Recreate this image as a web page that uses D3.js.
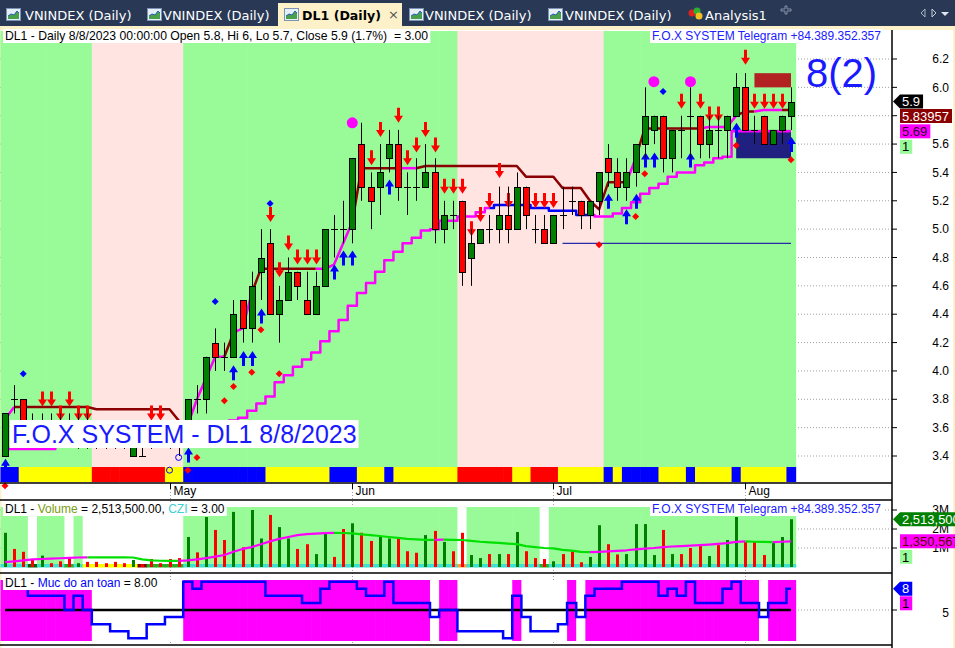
<!DOCTYPE html>
<html>
<head>
<meta charset="utf-8">
<title>DL1 (Daily)</title>
<script src="https://cdn.jsdelivr.net/npm/d3@7/dist/d3.min.js"></script>
<style>
  body { margin: 0; background: #fff; }
  svg { display: block; font-family: "Liberation Sans", Arial, sans-serif; }
  text { white-space: pre; }
</style>
</head>
<body>
<div id="chart"></div>
<script>
// 1: DATA (DL1 daily Apr - Aug 2023)
const dates = [
  "2023-04-05","2023-04-06","2023-04-07","2023-04-10","2023-04-11","2023-04-12","2023-04-13","2023-04-14","2023-04-17","2023-04-18",
  "2023-04-19","2023-04-20","2023-04-21","2023-04-24","2023-04-25","2023-04-26","2023-04-27","2023-04-28","2023-05-04","2023-05-05",
  "2023-05-08","2023-05-09","2023-05-10","2023-05-11","2023-05-12","2023-05-15","2023-05-16","2023-05-17","2023-05-18","2023-05-19",
  "2023-05-22","2023-05-23","2023-05-24","2023-05-25","2023-05-26","2023-05-29","2023-05-30","2023-05-31","2023-06-01","2023-06-02",
  "2023-06-05","2023-06-06","2023-06-07","2023-06-08","2023-06-09","2023-06-12","2023-06-13","2023-06-14","2023-06-15","2023-06-16",
  "2023-06-19","2023-06-20","2023-06-21","2023-06-22","2023-06-23","2023-06-26","2023-06-27","2023-06-28","2023-06-29","2023-06-30",
  "2023-07-03","2023-07-04","2023-07-05","2023-07-06","2023-07-07","2023-07-10","2023-07-11","2023-07-12","2023-07-13","2023-07-14",
  "2023-07-17","2023-07-18","2023-07-19","2023-07-20","2023-07-21","2023-07-24","2023-07-25","2023-07-26","2023-07-27","2023-07-28",
  "2023-07-31","2023-08-01","2023-08-02","2023-08-03","2023-08-04","2023-08-07","2023-08-08"
];

const open = [
  3.4,3.8,3.8,3.6,3.5,3.6,3.6,3.6,3.5,3.6,
  3.5,3.5,3.5,3.5,3.4,3.4,3.5,3.5,3.5,3.5,
  3.5,3.8,3.8,4.2,4.1,4.1,4.5,4.3,4.7,4.9,
  4.4,4.5,4.7,4.5,4.4,4.6,5.0,5.0,5.0,5.6,
  5.3,5.3,5.5,5.6,5.3,5.3,5.3,5.4,5.0,5.1,
  5.2,4.8,4.9,5.0,5.0,5.1,5.0,5.3,5.0,5.0,
  4.9,5.1,5.2,5.2,5.1,5.2,5.5,5.4,5.3,5.4,
  5.6,5.7,5.8,5.5,5.7,5.8,5.8,5.6,5.7,5.7,
  5.8,6.0,5.7,5.8,5.6,5.7,5.8
];
const high = [
  3.7,3.9,3.8,3.7,3.7,3.7,3.7,3.7,3.7,3.7,
  3.6,3.6,3.6,3.6,3.6,3.5,3.6,3.6,3.6,3.6,
  3.8,3.9,4.1,4.3,4.2,4.5,4.5,4.7,5.0,5.0,
  4.6,4.8,4.7,4.7,4.7,5.0,5.1,5.2,5.5,5.75,
  5.4,5.6,5.7,5.7,5.4,5.5,5.6,5.5,5.2,5.2,
  5.2,5.0,5.0,5.1,5.3,5.3,5.4,5.3,5.1,5.1,
  5.1,5.3,5.3,5.2,5.2,5.4,5.6,5.5,5.5,5.6,
  6.0,5.8,5.8,5.7,5.8,6.0,5.8,5.8,5.8,5.8,
  6.1,6.1,5.8,5.8,5.7,5.8,6.0
];
const low = [
  3.4,3.7,3.5,3.5,3.5,3.5,3.5,3.5,3.45,3.45,
  3.45,3.45,3.45,3.45,3.4,3.4,3.45,3.5,3.45,3.4,
  3.5,3.7,3.7,4.0,4.0,4.1,4.2,4.2,4.5,4.4,
  4.2,4.5,4.5,4.4,4.4,4.6,4.8,4.9,4.9,5.2,
  5.0,5.1,5.4,5.2,5.1,5.2,5.3,4.9,4.9,5.0,
  4.6,4.6,4.9,4.9,4.9,4.9,5.0,5.0,4.9,4.9,
  4.9,5.0,5.1,5.0,5.0,5.1,5.3,5.2,5.2,5.3,
  5.5,5.6,5.4,5.4,5.5,5.5,5.5,5.5,5.5,5.5,
  5.8,5.7,5.6,5.6,5.6,5.6,5.7
];
const close = [
  3.7,3.8,3.6,3.6,3.6,3.5,3.6,3.5,3.6,3.5,
  3.5,3.5,3.5,3.5,3.5,3.4,3.5,3.5,3.5,3.5,
  3.8,3.8,4.1,4.1,4.1,4.4,4.3,4.6,4.8,4.4,
  4.5,4.7,4.6,4.4,4.6,5.0,5.0,5.0,5.5,5.3,
  5.2,5.4,5.6,5.3,5.3,5.3,5.4,5.0,5.1,5.1,
  4.7,4.9,5.0,5.0,5.1,5.0,5.3,5.1,5.0,4.9,
  5.1,5.1,5.2,5.1,5.2,5.4,5.4,5.3,5.4,5.6,
  5.8,5.8,5.5,5.7,5.7,5.8,5.6,5.7,5.7,5.8,
  6.0,5.7,5.7,5.6,5.7,5.8,5.9
];

// volume in millions of shares
const volume = [
  1.8,0.95,0.8,0.4,0.6,0.2,0.3,0.5,0.2,0.27,
  0.27,0.2,0.27,0.2,0.37,0.15,0.42,0.2,0.42,0.47,
  1.58,0.77,2.63,1.95,1.42,2.9,1.04,3.0,1.5,2.74,
  2.1,1.5,0.95,1.2,0.68,1.8,0.53,2.0,2.3,1.8,
  1.37,1.58,1.5,1.55,0.83,0.75,1.68,1.9,1.32,0.83,
  1.8,0.63,0.47,0.68,0.68,0.68,1.84,0.83,0.47,0.42,
  0.3,0.68,0.83,0.25,0.53,2.2,1.2,0.66,0.68,2.26,
  2.26,0.63,1.95,0.68,0.68,1.0,1.1,0.58,1.15,1.42,
  2.63,1.32,1.32,0.63,1.26,1.58,2.5135
];
const volumeMA = [
  0.26,0.3,0.35,0.4,0.42,0.44,0.46,0.48,0.5,0.51,
  0.51,0.51,0.51,0.51,0.5,0.4,0.35,0.33,0.32,0.32,
  0.35,0.4,0.47,0.55,0.63,0.8,0.95,1.05,1.2,1.35,
  1.48,1.58,1.68,1.73,1.76,1.78,1.8,1.79,1.77,1.72,
  1.68,1.63,1.58,1.53,1.48,1.45,1.43,1.43,1.44,1.43,
  1.42,1.38,1.33,1.3,1.27,1.23,1.2,1.1,1.05,1.0,
  0.98,0.9,0.86,0.8,0.78,0.8,0.82,0.85,0.88,0.93,
  0.97,1.0,1.05,1.08,1.1,1.12,1.15,1.18,1.22,1.26,
  1.32,1.35,1.33,1.32,1.31,1.33,1.350567
];

// "Muc do an toan" (safety level)
const safety = [
  9,9,8,7,7,7,7,5,7,5,
  3,3,2,2,1,1,3,3,4,4,
  9,8,9,9,9,9,9,9,9,7,
  7,7,7,6,6,8,9,9,9,8,
  7,7,9,6,6,6,6,4,5,5,
  2,2,2,2,2,1,7,4,2,2,
  2,3,6,4,7,8,8,8,9,9,
  9,9,7,8,7,9,6,6,6,8,
  9,6,6,4,6,6,8
];

// trailing stop (fast) and staircase stop (slow)
const fastStop = [
  3.66,3.745,3.745,3.745,3.745,3.745,3.745,3.745,3.745,3.745,
  3.73,3.73,3.73,3.73,3.73,3.73,3.73,3.73,3.73,3.65,
  3.62,3.8,3.95,4.1,4.1,4.27,4.3,4.55,4.72,4.72,
  4.72,4.72,4.72,4.72,4.72,4.72,4.75,4.9,5.05,5.43,
  5.43,5.43,5.43,5.43,5.43,5.43,5.445,5.445,5.445,5.445,
  5.445,5.445,5.445,5.445,5.445,5.445,5.445,5.37,5.37,5.37,
  5.37,5.29,5.29,5.29,5.2,5.14,5.33,5.33,5.33,5.5,
  5.71,5.71,5.71,5.71,5.71,5.71,5.71,5.72,5.72,5.72,
  5.8,5.83,5.83,5.84,5.84,5.84,5.83957
];
const slowStop = [
  3.45,3.45,3.45,3.45,3.45,3.45,3.48,3.5,3.5,3.52,
  3.52,3.53,3.54,3.55,3.55,3.56,3.57,3.58,3.58,3.59,
  3.6,3.6,3.61,3.62,3.63,3.65,3.67,3.72,3.77,3.82,
  3.92,3.97,4.03,4.08,4.13,4.21,4.28,4.36,4.46,4.55,
  4.62,4.70,4.78,4.84,4.90,4.94,4.99,5.0,5.06,5.06,
  5.09,5.09,5.12,5.15,5.17,5.17,5.17,5.17,5.15,5.15,
  5.13,5.13,5.13,5.10,5.10,5.09,5.09,5.11,5.15,5.19,
  5.25,5.29,5.32,5.37,5.40,5.40,5.45,5.47,5.50,5.51,
  5.69,5.69,5.69,5.69,5.69,5.69,5.69
];

// per-bar states as [state, number of bars]
const fastStateRuns = [
  ["P",2],["M",18],["P",5],["M",1],["P",2],["M",7],["P",4],["M",5],
  ["P",2],["M",23],["P",1],["M",7],["P",4],["M",2],["P",3],["M",1]
];
const slowStateRuns = [["P",54],["B",11],["P",22]];
const trendRuns = [["G",10],["P",10],["G",30],["P",16],["G",21]];
const ribbonRuns = [
  ["B",2],["Y",8],["R",8],["Y",2],["B",9],["Y",7],["B",3],["Y",3],["B",1],["Y",7],["R",6],["Y",2],
  ["R",3],["Y",5],["B",1],["Y",1],["B",4],["Y",3],["B",1],["Y",4],["B",1],["Y",5],["B",1]
];
const volZoneRuns = [[1,3],[0,1],[1,3],[0,1],[1,1],[0,11],[1,30],[0,1],[1,8],[0,1],[1,27]];
const cziRuns = [["c",3],["d",1],["c",3],["g",1],["c",1],["y",6],["r",1],["g",4],["c",30],["o",1],["c",8],["g",1],["c",27]];

// signals: [bar, price]
const sellSignals = [
  [4,3.75],[5,3.75],[7,3.75],[6,3.65],[8,3.65],[9,3.65],[16,3.65],[17,3.65],
  [29,5.05],[30,4.66],[31,4.85],[32,4.75],[33,4.75],[34,4.75],
  [40,5.45],[41,5.65],[43,5.75],[44,5.45],[45,5.54],[46,5.65],[47,5.54],
  [48,5.25],[49,5.25],[50,5.25],[51,4.95],[52,5.05],[53,5.15],[54,5.36],[55,5.15],
  [58,5.15],[59,5.15],[60,5.15],
  [74,5.85],[76,5.85],[77,5.76],[78,5.76],[81,6.16],[82,5.85],[83,5.85],[84,5.85],[85,5.85]
];
const buySignals = [
  [0,3.38],[20,3.46],[25,4.04],[26,4.14],[27,4.14],[28,4.44],[36,4.75],[37,4.85],[38,4.85],[42,5.35],
  [66,5.25],[68,5.14],[69,5.25],[70,5.54],[71,5.54],[75,5.54],[80,5.75],[86,5.65]
];
const redDots = [[0,3.19],[20,3.3],[21,3.39],[24,3.79],[25,3.89],[27,3.99],[28,4.29],[30,3.98],[65,4.89],[69,5.09],[70,5.39],[80,5.59],[86,5.49]];
const blueDots = [[2,3.98],[23,4.49],[29,5.18],[72,5.97]];
const pinkBalls = [[38,5.75],[71,6.04],[75,6.04]];
const openRings = [[18,3.3],[19,3.39]];

const stopZone = { from: 80, to: 86, top: 5.7, bottom: 5.5 };
const targetZone = { from: 82, to: 86, top: 6.1, bottom: 6.0 };
const supportLine = { from: 61, to: 86, level: 4.9 };

const priceTicks = d3.range(3.4, 6.21, 0.2);
const volumeTicks = [1, 2, 3];
const safetyTicks = [5];
const systemCount = "8(2)";
const cziValue = 3.00;

// 2: SET UP
const W = 955, H = 648, AXIS_X = 892;
const expand = runs => runs.flatMap(([v, n]) => Array(n).fill(v));
const fastState = expand(fastStateRuns);
const slowState = expand(slowStateRuns);
const trend = expand(trendRuns);
const ribbon = expand(ribbonRuns);
const volZone = expand(volZoneRuns);
const cziState = expand(cziRuns);

const parseDate = d3.timeParse("%Y-%m-%d");
const x = d3.scalePoint().domain(dates).range([5, 791]);
const step = x.step();
const xi = i => x(dates[i]);
const y = d3.scaleLinear().domain([3.4, 6.2]).range([456, 59]);
const yv = d3.scaleLinear().domain([0, 3]).range([567, 510]);
const ys = d3.scaleLinear().domain([1, 9]).range([638.3, 581.7]);

const svg = d3.select("#chart").append("svg")
    .attr("width", W)
    .attr("height", H);

// TAB STRIP
svg.append("rect").attr("width", W).attr("height", 27).attr("fill", "#293955");
svg.append("rect").attr("y", 26).attr("width", W).attr("height", 4).attr("fill", "#fcf1c9");
svg.append("rect").attr("x", 278).attr("y", 3).attr("width", 124).attr("height", 25).attr("fill", "#fcf1c9");

const tabs = [
    { label: "VNINDEX (Daily)", icon: 6, text: 25 },
    { label: "VNINDEX (Daily)", icon: 147, text: 163 },
    { label: "DL1 (Daily)", icon: 284, text: 302, active: true },
    { label: "VNINDEX (Daily)", icon: 409, text: 425 },
    { label: "VNINDEX (Daily)", icon: 548, text: 565 },
];
tabs.forEach(t => {
    const g = svg.append("g").attr("transform", `translate(${t.icon},8)`);
    g.append("rect").attr("x", 0.5).attr("y", 0.5).attr("width", 14).attr("height", 12)
        .attr("fill", "#e6eef8").attr("stroke", "#7d93b5");
    g.append("path").attr("d", "M2,11 L2,8 L5,6 L8,7 L11,3 L13,5 L13,11 Z").attr("fill", "#4aa04a");
    g.append("path").attr("d", "M2,8 L5,6 L8,7 L11,3 L13,5").attr("fill", "none").attr("stroke", "#2a5bb8").attr("stroke-width", 1);
    svg.append("text")
        .attr("x", t.text).attr("y", 20)
        .attr("font-family", "DejaVu Sans, sans-serif")
        .attr("font-size", t.active ? "12.6px" : "13px")
        .attr("font-weight", t.active ? "bold" : "normal")
        .attr("fill", t.active ? "#000" : "#fff")
        .text(t.label);
});
svg.append("text").attr("x", 388).attr("y", 19).attr("font-family", "DejaVu Sans, sans-serif")
    .attr("font-size", "13px").attr("fill", "#555").text("×");
// analysis tab
const an = svg.append("g").attr("transform", "translate(688,7)");
an.append("circle").attr("cx", 4).attr("cy", 6).attr("r", 3.5).attr("fill", "#e02020");
an.append("circle").attr("cx", 9).attr("cy", 4).attr("r", 3.5).attr("fill", "#30b030");
an.append("circle").attr("cx", 11).attr("cy", 9).attr("r", 3.5).attr("fill", "#f0c020");
svg.append("text").attr("x", 705).attr("y", 20).attr("font-family", "DejaVu Sans, sans-serif")
    .attr("font-size", "13px").attr("fill", "#fff").text("Analysis1");
svg.append("path").attr("d", "M781,9 h4 v-3 h2 v3 h4 v2 h-4 v3 h-2 v-3 h-4 Z")
    .attr("fill", "none").attr("stroke", "#8792a8").attr("stroke-width", 1);
svg.append("path").attr("d", "M925,9 l-4,4 l4,4 Z").attr("fill", "none").attr("stroke", "#a8b3c6");
svg.append("path").attr("d", "M932,9 l4,4 l-4,4 Z").attr("fill", "none").attr("stroke", "#c8d0dc");
svg.append("path").attr("d", "M941,12 h8 l-4,4 Z").attr("fill", "#dfe5ee");

// CHART AREA
svg.append("rect").attr("y", 30).attr("width", W).attr("height", H - 30).attr("fill", "#fff");
svg.append("rect").attr("x", 0).attr("y", 30).attr("width", 1.5).attr("height", H - 30).attr("fill", "#fcf1c9");
svg.append("rect").attr("x", 953).attr("y", 30).attr("width", 2).attr("height", H - 30).attr("fill", "#fcf1c9");

// GRID (dotted)
const grid = svg.append("g").attr("stroke", "#a0a0a0").attr("stroke-dasharray", "1,2").attr("stroke-width", 1);
priceTicks.forEach(p => grid.append("line").attr("x1", 0).attr("x2", AXIS_X).attr("y1", y(p)).attr("y2", y(p)));
volumeTicks.forEach(v => grid.append("line").attr("x1", 0).attr("x2", AXIS_X).attr("y1", yv(v)).attr("y2", yv(v)));
safetyTicks.forEach(v => grid.append("line").attr("x1", 0).attr("x2", AXIS_X).attr("y1", ys(v)).attr("y2", ys(v)));
const monthStarts = dates.map((d, i) => i).filter(i => i > 0 && parseDate(dates[i]).getMonth() !== parseDate(dates[i - 1]).getMonth());
monthStarts.forEach(i => grid.append("line").attr("x1", Math.round(xi(i)) + 0.5).attr("x2", Math.round(xi(i)) + 0.5).attr("y1", 483).attr("y2", 645));

// 3: PRICE PANE
const trendColor = { G: "#98fb98", P: "#ffe4e1" };
const ribbonColor = { B: "#0000ff", Y: "#ffff00", R: "#ff0000" };
const main = svg.append("g");
dates.forEach((d, i) => {
    main.append("rect").attr("x", x(d) - step / 2).attr("y", 31).attr("width", step + 0.6).attr("height", 436)
        .attr("fill", trendColor[trend[i]]);
    main.append("rect").attr("x", x(d) - step / 2).attr("y", 467).attr("width", step + 0.6).attr("height", 15)
        .attr("fill", ribbonColor[ribbon[i]]);
});

svg.append("clipPath").attr("id", "plotClip")
    .append("rect").attr("x", 0).attr("y", 31).attr("width", 800).attr("height", 436);

// zones
[[stopZone, "#202080"], [targetZone, "#b22222"]].forEach(([z, c]) => {
    main.append("rect")
        .attr("x", xi(z.from)).attr("y", y(z.top))
        .attr("width", xi(z.to) - xi(z.from)).attr("height", y(z.bottom) - y(z.top))
        .attr("fill", c);
});
main.append("line")
    .attr("x1", xi(supportLine.from)).attr("x2", xi(supportLine.to))
    .attr("y1", y(supportLine.level)).attr("y2", y(supportLine.level))
    .attr("stroke", "#2a2aa8").attr("stroke-width", 1.2);

// coloured line segments
function drawColoredLine(g, values, states, colors, scale, curve, width) {
    const line = d3.line().x(d => xi(d)).y(d => scale(values[d])).curve(curve);
    let start = 1;
    for (let i = 2; i <= values.length; i++) {
        if (i === values.length || states[i] !== states[start]) {
            g.append("path")
                .attr("d", line(d3.range(start - 1, i)))
                .attr("fill", "none")
                .attr("stroke", colors[states[start]])
                .attr("stroke-width", width)
                .attr("stroke-linejoin", "round");
            start = i;
        }
    }
}
drawColoredLine(main, slowStop, slowState, { P: "#ff00ff", B: "#0000ff" }, y, d3.curveStep, 2.5);
drawColoredLine(main, fastStop, fastState, { P: "#ff00ff", M: "#8b0000" }, y, d3.curveLinear, 2.5);

// arrows
function arrow(cx, tip, dir) {
    const s = dir; // 1 = points down, -1 = points up
    return `M${cx},${tip} L${cx + 4.5},${tip - 7 * s} L${cx + 1.5},${tip - 7 * s} L${cx + 1.5},${tip - 15 * s}` +
        ` L${cx - 1.5},${tip - 15 * s} L${cx - 1.5},${tip - 7 * s} L${cx - 4.5},${tip - 7 * s} Z`;
}
const arrows = main.append("g").attr("clip-path", "url(#plotClip)");
sellSignals.forEach(([i, p]) => arrows.append("path").attr("d", arrow(Math.round(xi(i)) + 0.5, y(p), 1)).attr("fill", "#ff0000"));
buySignals.forEach(([i, p]) => arrows.append("path").attr("d", arrow(Math.round(xi(i)) + 0.5, y(p), -1)).attr("fill", "#0000ff"));

// candles
dates.forEach((d, i) => {
    const cx = Math.round(x(d)) + 0.5;
    main.append("line").attr("x1", cx).attr("x2", cx).attr("y1", y(high[i])).attr("y2", y(low[i]))
        .attr("stroke", "#000").attr("stroke-width", 1);
    if (open[i] === close[i]) {
        main.append("line").attr("x1", cx - 3.5).attr("x2", cx + 3.5).attr("y1", Math.round(y(open[i])) + 0.5).attr("y2", Math.round(y(open[i])) + 0.5)
            .attr("stroke", "#000").attr("stroke-width", 1);
    } else {
        const top = Math.round(y(Math.max(open[i], close[i]))) + 0.5;
        const bot = Math.round(y(Math.min(open[i], close[i]))) + 0.5;
        main.append("rect").attr("x", cx - 3).attr("y", top).attr("width", 6).attr("height", bot - top)
            .attr("fill", close[i] > open[i] ? "#008000" : "#ff0000")
            .attr("stroke", "#000").attr("stroke-width", 1);
    }
});

// dots
const diamond = (cx, cy, r) => `M${cx},${cy - r} L${cx + r},${cy} L${cx},${cy + r} L${cx - r},${cy} Z`;
redDots.forEach(([i, p]) => main.append("path").attr("d", diamond(xi(i), y(p), 3.5)).attr("fill", "#ff0000"));
blueDots.forEach(([i, p]) => main.append("path").attr("d", diamond(xi(i), y(p), 3.5)).attr("fill", "#0000ff"));
pinkBalls.forEach(([i, p]) => main.append("circle").attr("cx", xi(i)).attr("cy", y(p)).attr("r", 5.5).attr("fill", "#ff00ff"));
openRings.forEach(([i, p]) => main.append("circle").attr("cx", xi(i)).attr("cy", y(p)).attr("r", 3)
    .attr("fill", "none").attr("stroke", "#0000ff").attr("stroke-width", 1));

// 4: VOLUME PANE
const volPane = svg.append("g");
const cziColor = { c: "#40e0d0", d: "#006400", g: "#22b022", y: "#ffff00", r: "#8b0000", o: "#ffa040" };
dates.forEach((d, i) => {
    volPane.append("rect").attr("x", x(d) - step / 2).attr("y", 507).attr("width", step + 0.6).attr("height", 60)
        .attr("fill", volZone[i] ? "#98fb98" : "#fff");
});
dates.forEach((d, i) => {
    volPane.append("rect").attr("x", x(d) - step / 2).attr("y", 564).attr("width", step + 0.6).attr("height", 3.5)
        .attr("fill", cziColor[cziState[i]]);
});
volume.forEach((v, i) => {
    volPane.append("rect").attr("x", Math.round(xi(i)) - 1).attr("y", yv(v)).attr("width", 3).attr("height", yv(0) - yv(v))
        .attr("fill", close[i] > open[i] ? "#008000" : "#ff0000");
});
const maState = volumeMA.map((v, i) => i > 0 && v > volumeMA[i - 1] ? "U" : "D");
drawColoredLine(volPane, volumeMA, maState, { U: "#ff00ff", D: "#00e000" }, yv, d3.curveLinear, 2.2);

// 5: SAFETY PANE
const safePane = svg.append("g");
safety.forEach((v, i) => {
    safePane.append("rect").attr("x", xi(i) - step / 2).attr("y", 580).attr("width", step + 0.6).attr("height", 61)
        .attr("fill", v >= 5 ? "#ff00ff" : "#fff");
});
safePane.append("line").attr("x1", xi(0)).attr("x2", xi(dates.length - 1)).attr("y1", ys(5)).attr("y2", ys(5))
    .attr("stroke", "#000").attr("stroke-width", 2.5);
safePane.append("path")
    .attr("d", d3.line().x((d, i) => xi(i)).y(d => ys(d)).curve(d3.curveStep)(safety))
    .attr("fill", "none").attr("stroke", "#0000ff").attr("stroke-width", 2.5);

// 6: FRAMES AND AXES
const frame = svg.append("g").attr("stroke", "#000").attr("stroke-width", 1.5);
[483, 500, 573, 645].forEach(v => frame.append("line").attr("x1", 0).attr("x2", AXIS_X).attr("y1", v).attr("y2", v));
frame.append("line").attr("x1", AXIS_X).attr("x2", AXIS_X).attr("y1", 30).attr("y2", H);

const axis = svg.append("g").attr("font-size", "12px").attr("fill", "#000");
const tick = yy => axis.append("line").attr("x1", AXIS_X).attr("x2", AXIS_X + 5).attr("y1", yy).attr("y2", yy).attr("stroke", "#000");
priceTicks.forEach(p => {
    tick(y(p));
    axis.append("text").attr("x", 949).attr("y", y(p)).attr("dy", "0.35em").attr("text-anchor", "end").text(d3.format(".1f")(p));
});
volumeTicks.forEach(v => {
    tick(yv(v));
    axis.append("text").attr("x", 949).attr("y", yv(v)).attr("dy", "0.35em").attr("text-anchor", "end").text(v + "M");
});
safetyTicks.forEach(v => {
    tick(ys(v));
    axis.append("text").attr("x", 949).attr("y", ys(v) + 3).attr("dy", "0.35em").attr("text-anchor", "end").text(v);
});
monthStarts.forEach(i => {
    const mx = Math.round(xi(i)) + 0.5;
    axis.append("line").attr("x1", mx).attr("x2", mx).attr("y1", 483).attr("y2", 489).attr("stroke", "#000");
    axis.append("text").attr("x", mx + 3).attr("y", 495).text(d3.timeFormat("%b")(parseDate(dates[i])));
});

// value tags on the right axis
function tag(cy, label, fill, color, pointer) {
    const g = svg.append("g");
    const t = g.append("text").attr("x", 902).attr("y", cy).attr("dy", "0.36em")
        .attr("font-size", "13px").attr("fill", color).text(label);
    const w = t.node().getBBox().width + 5;
    const shape = pointer
        ? `M${AXIS_X + 1},${cy} L900,${cy - 7} L${900 + w},${cy - 7} L${900 + w},${cy + 7} L900,${cy + 7} Z`
        : `M900,${cy - 7} L${900 + w},${cy - 7} L${900 + w},${cy + 7} L900,${cy + 7} Z`;
    g.insert("path", "text").attr("d", shape).attr("fill", fill);
}
const last = dates.length - 1;
let ty = y(close[last]);
tag(ty, String(close[last]), "#000", "#fff", true);
ty = Math.max(y(fastStop[last]), ty + 14.5);
tag(ty, String(fastStop[last]), "#8b0000", "#fff", false);
ty = Math.max(y(slowStop[last]), ty + 14.5);
tag(ty, String(slowStop[last]), "#ff00ff", "#300030", false);
tag(ty + 15.5, "1", "#98fb98", "#000", false);

let tv = yv(volume[last]);
tag(tv, d3.format(",.0f")(volume[last] * 1e6), "#008000", "#fff", true);
tv = Math.max(yv(volumeMA[last]), tv + 14.5);
tag(tv, d3.format(",.0f")(volumeMA[last] * 1e6), "#ff00ff", "#600000", false);
tag(tv + 15.5, "1", "#98fb98", "#000", false);

tag(ys(safety[last]), String(safety[last]), "#0000ff", "#fff", true);
tag(ys(safety[last]) + 14.5, "1", "#ff00ff", "#000", false);

// 7: TITLES
function boxedText(tx, tyy, parts, size) {
    const g = svg.append("g");
    const t = g.append("text").attr("x", tx).attr("y", tyy).attr("font-size", size);
    parts.forEach(([s, c]) => t.append("tspan").attr("fill", c).text(s));
    const b = t.node().getBBox();
    g.insert("rect", "text").attr("x", b.x - 2).attr("y", b.y).attr("width", b.width + 4).attr("height", b.height).attr("fill", "#fff");
}
const prev = close[last - 1];
const pct = ((close[last] - prev) / prev * 100).toFixed(1);
const lastDay = d3.timeFormat("%-m/%-d/%Y")(parseDate(dates[last]));
boxedText(5, 40, [[`DL1 - Daily ${lastDay} 00:00:00 Open ${open[last]}, Hi ${high[last]}, Lo ${low[last]}, Close ${close[last]} (${pct}%)  = ${cziValue.toFixed(2)}`, "#000"]], "12.2px");
boxedText(652, 40, [["F.O.X SYSTEM Telegram +84.389.352.357", "#2020ff"]], "12px");
boxedText(5, 513, [["DL1 - ", "#000"], ["Volume", "#7a9a10"], [` = ${d3.format(",.2f")(volume[last] * 1e6)}, `, "#000"], ["CZI", "#40d0d0"], [` = ${cziValue.toFixed(2)}`, "#000"]], "12px");
boxedText(652, 513, [["F.O.X SYSTEM Telegram +84.389.352.357", "#2020ff"]], "12px");
boxedText(5, 587, [["DL1 - ", "#000"], ["Muc do an toan", "#0000ff"], [` = ${safety[last].toFixed(2)}`, "#000"]], "12px");
boxedText(12, 443, [[`F.O.X SYSTEM - DL1 ${lastDay}`, "#1a1aff"]], "25px");

svg.append("text").attr("x", 806).attr("y", 87).attr("font-size", "40px").attr("fill", "#1a1aff").text(systemCount);
</script>
</body>
</html>
